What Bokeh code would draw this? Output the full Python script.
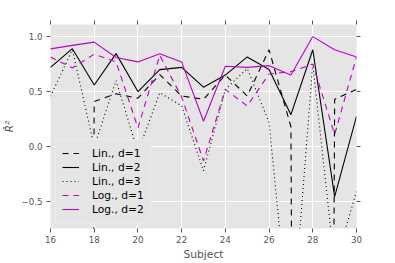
from bokeh.plotting import figure
from bokeh.models import Range1d, FixedTicker, LinearAxis, CustomJSTickFormatter
from bokeh.embed import file_html
from bokeh.resources import INLINE

subjects = list(range(16, 31))
lin_d1 = [-40.0, -40.0, 0.41, 0.48, 0.44, 0.655, 0.46, 0.43, 0.65, 0.46, 0.88, 0.18, -40.0, 0.43, 0.52]
lin_d2 = [0.72, 0.89, 0.56, 0.845, 0.50, 0.70, 0.72, 0.54, 0.65, 0.815, 0.70, 0.29, 0.88, -0.455, 0.275]
lin_d3 = [0.457, 0.88, 0.0, 0.60, -0.05, 0.49, 0.37, -0.22, 0.52, 0.71, 0.22, -1.8, 0.75, -1.08, -0.41]
log_d1 = [0.815, 0.715, 0.84, 0.77, 0.17, 0.83, 0.45, -0.13, 0.52, 0.37, 0.66, 0.68, 0.75, 0.11, 0.815]
log_d2 = [0.888, 0.92, 0.95, 0.81, 0.77, 0.845, 0.77, 0.23, 0.73, 0.72, 0.736, 0.65, 1.0, 0.88, 0.815]

x_ticks = [16, 18, 20, 22, 24, 26, 28, 30]
y_ticks = [-0.5, 0.0, 0.5, 1.0]
y_tick_labels = {-0.5: "\u22120.5", 0.0: "0.0", 0.5: "0.5", 1.0: "1.0"}

FONT = "DejaVu Sans"
GRAY = "#555555"
MAG = "#BF00BF"

p = figure(frame_width=306, frame_height=204, output_backend="svg", toolbar_location=None,
           x_range=Range1d(16, 30), y_range=Range1d(-0.745, 1.11),
           min_border_left=41, min_border_right=20, min_border_top=24, min_border_bottom=20)
p.background_fill_color = "#E5E5E5"
p.border_fill_color = "white"
p.outline_line_color = None

p.line(subjects, lin_d1, color="black", line_width=1.1, line_dash="6 5", legend_label="Lin., d=1")
p.line(subjects, lin_d2, color="black", line_width=1.1, legend_label="Lin., d=2")
p.line(subjects, lin_d3, color="black", line_width=1.1, line_dash="1 3", legend_label="Lin., d=3")
p.line(subjects, log_d1, color=MAG, line_width=1.1, line_dash="6 5", legend_label="Log., d=1")
p.line(subjects, log_d2, color=MAG, line_width=1.1, legend_label="Log., d=2")

for ax in (p.xaxis[0], p.yaxis[0]):
    ax.axis_line_color = None
    ax.major_tick_line_color = GRAY
    ax.major_tick_out = 4
    ax.major_tick_in = 0
    ax.minor_tick_line_color = None
    ax.major_label_text_font = FONT
    ax.major_label_text_font_size = "8.7px"
    ax.major_label_text_color = GRAY
    ax.axis_label_text_font = FONT
    ax.axis_label_text_color = GRAY
    ax.axis_label_text_font_style = "normal"

p.xaxis[0].ticker = FixedTicker(ticks=x_ticks)
p.yaxis[0].ticker = FixedTicker(ticks=y_ticks)
p.yaxis[0].major_label_overrides = y_tick_labels
p.xaxis[0].axis_label = "Subject"
p.xaxis[0].axis_label_text_font_size = "10.7px"
p.xaxis[0].major_label_standoff = 3
p.xaxis[0].axis_label_standoff = 2
p.yaxis[0].axis_label = "R\u0302\u00b2"
p.yaxis[0].axis_label_text_font_size = "10.5px"
p.yaxis[0].axis_label_text_font_style = "italic"
p.yaxis[0].major_label_standoff = 4
p.yaxis[0].axis_label_standoff = 3

blank = CustomJSTickFormatter(code="return ''")
for loc, tks in (("above", x_ticks), ("right", y_ticks)):
    a = LinearAxis(ticker=FixedTicker(ticks=tks), axis_line_color=None,
                   major_tick_line_color=GRAY, major_tick_out=4, major_tick_in=0,
                   minor_tick_line_color=None, formatter=blank,
                   major_label_standoff=0)
    p.add_layout(a, loc)

p.xgrid.ticker = FixedTicker(ticks=x_ticks)
p.ygrid.ticker = FixedTicker(ticks=y_ticks)
p.grid.grid_line_color = "white"
p.grid.grid_line_width = 1

lg = p.legend[0]
lg.location = "bottom_left"
lg.margin = 5
lg.padding = 6
lg.spacing = 0
lg.label_height = 14
lg.glyph_height = 14
lg.glyph_width = 17
lg.label_standoff = 13
lg.label_text_font = FONT
lg.label_text_font_size = "10.7px"
lg.label_text_color = "black"
lg.background_fill_color = "#E5E5E5"
lg.background_fill_alpha = 1.0
lg.border_line_color = "#F2F2F2"
lg.border_line_width = 1

open("out.html", "w").write(file_html(p, INLINE))
